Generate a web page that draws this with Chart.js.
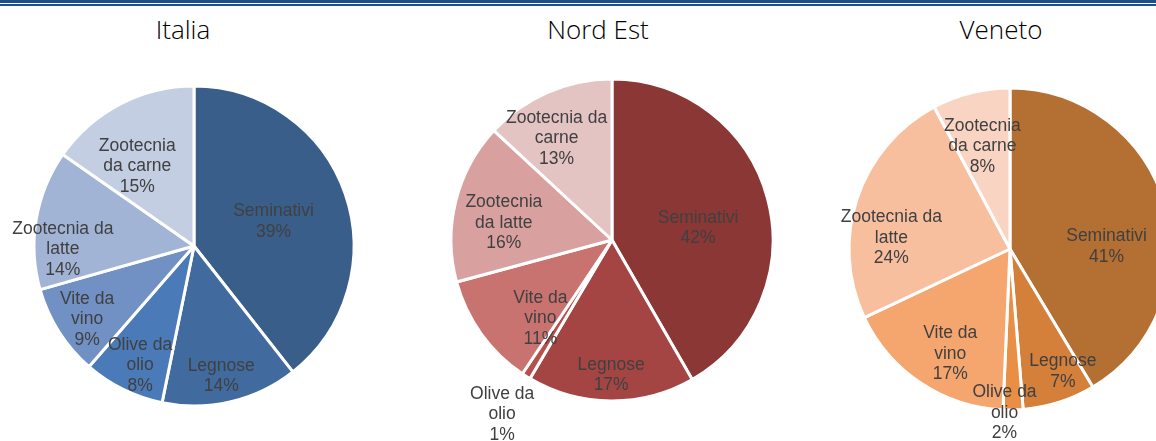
<!DOCTYPE html>
<html>
<head>
<meta charset="utf-8">
<script src="https://cdn.jsdelivr.net/npm/chart.js@4.4.1/dist/chart.umd.min.js"></script>
<style>
  body { margin: 0; width: 1156px; height: 441px; overflow: hidden; background: #fff; position: relative; }
  .rule { position: absolute; left: 0; width: 1156px; background: #1d4f8c; }
  .title { position: absolute; top: 11px; font: 300 26px "Open Sans", "DejaVu Sans", sans-serif; color: #000;
           transform: translateX(-50%); white-space: nowrap; }
  .box { position: absolute; top: 50px; }
</style>
</head>
<body>
<div class="rule" style="top:0;height:3px"></div>
<div class="rule" style="top:4px;height:2px"></div>

<div class="title" style="left:183px">Italia</div>
<div class="title" style="left:598px">Nord Est</div>
<div class="title" style="left:1001px">Veneto</div>

<div class="box" style="left:0"><canvas id="italia" width="395" height="391"></canvas></div>
<div class="box" style="left:400px"><canvas id="nordest" width="380" height="391"></canvas></div>
<div class="box" style="left:790px"><canvas id="veneto" width="410" height="391"></canvas></div>

<script>
// categories (same order in all three pies, clockwise from 12 o'clock)
const categories = ['Seminativi', 'Legnose', 'Olive da olio', 'Vite da vino', 'Zootecnia da latte', 'Zootecnia da carne'];

// share of farms (%)
const italiaValues  = [39.4, 13.8, 8.2, 9.2, 14.1, 15.3];
const nordEstValues = [41.7, 16.8, 0.9, 11.4, 16.1, 13.1];
const venetoValues  = [41.4, 7.3, 2.0, 17.3, 24.2, 7.8];

const italiaColors  = ['#3a5e8a', '#416a9f', '#4a7ab7', '#7190c3', '#a2b4d6', '#c3cee3'];
const nordEstColors = ['#8a3736', '#a44543', '#b5504d', '#c97370', '#d8a1a0', '#e4c3c3'];
const venetoColors  = ['#b46f33', '#d47f3a', '#e88f45', '#f5a66f', '#f8bf9f', '#fad4c2'];

// data labels drawn inside/next to each slice
const sliceLabels = {
  id: 'sliceLabels',
  afterDatasetsDraw(chart, args, opts) {
    const { ctx } = chart;
    const values = chart.data.datasets[0].data;
    const total = values.reduce((a, b) => a + b, 0);
    ctx.save();
    ctx.font = opts.font;
    ctx.fillStyle = opts.color;
    ctx.textAlign = 'center';
    ctx.textBaseline = 'middle';
    chart.getDatasetMeta(0).data.forEach((arc, i) => {
      const { x, y, startAngle, endAngle, outerRadius } =
        arc.getProps(['x', 'y', 'startAngle', 'endAngle', 'outerRadius'], true);
      const [f, shift] = opts.place[i];
      const a = (startAngle + endAngle) / 2 + shift * Math.PI / 180;
      const px = x + Math.cos(a) * outerRadius * f;
      const py = y + Math.sin(a) * outerRadius * f;
      const words = chart.data.labels[i].split(' ');
      const n = opts.wrap[i];
      const lines = [words.slice(0, n).join(' ')];
      if (n < words.length) lines.push(words.slice(n).join(' '));
      lines.push(Math.round(values[i] / total * 100) + '%');
      lines.forEach((t, k) => ctx.fillText(t, px, py + (k - (lines.length - 1) / 2) * opts.lineHeight));
    });
    ctx.restore();
  }
};

function makePie(id, values, colors, box, place, wrap) {
  const canvas = document.getElementById(id);
  const bw = 3;
  const s = 2 * box.r + bw;
  const left = box.cx - box.left - s / 2;
  const top = box.cy - 50 - s / 2;
  return new Chart(canvas, {
    type: 'pie',
    data: {
      labels: categories,
      datasets: [{
        data: values,
        backgroundColor: colors,
        borderColor: '#ffffff',
        borderWidth: bw
      }]
    },
    options: {
      responsive: false,
      animation: false,
      layout: {
        padding: {
          left: left,
          top: top,
          right: canvas.width - left - s,
          bottom: canvas.height - top - s
        }
      },
      plugins: {
        legend: { display: false },
        tooltip: { enabled: false },
        sliceLabels: {
          font: '17.5px "Liberation Sans", Arial, sans-serif',
          color: '#404040',
          lineHeight: 20.5,
          place: place,
          wrap: wrap
        }
      }
    },
    plugins: [sliceLabels]
  });
}

makePie('italia', italiaValues, italiaColors, { left: 0, cx: 194, cy: 246, r: 160 },
  [[0.52, 2], [0.83, 1.5], [0.82, -2], [0.81, -2], [0.82, -11], [0.61, -8]],
  [1, 1, 2, 2, 2, 1]);

makePie('nordest', nordEstValues, nordEstColors, { left: 400, cx: 612, cy: 240, r: 161 },
  [[0.54, 7], [0.84, 0], [1.28, 0], [0.66, -12], [0.68, -5], [0.72, -5]],
  [1, 1, 2, 2, 1, 2]);

makePie('veneto', venetoValues, venetoColors, { left: 790, cx: 1010, cy: 249, r: 161 },
  [[0.60, 14], [0.83, -5.5], [1.02, 3], [0.75, -4], [0.74, -13], [0.66, -1]],
  [1, 1, 2, 2, 2, 1]);
</script>
</body>
</html>
